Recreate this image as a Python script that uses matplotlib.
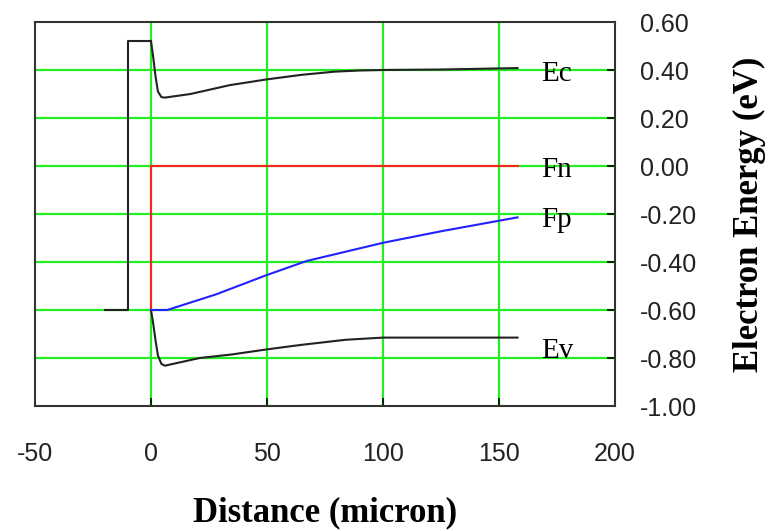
import matplotlib
matplotlib.use("Agg")
import matplotlib.pyplot as plt

# Band diagram data (distance in micron, energy in eV)
ec_x = [0, 1, 2, 3, 4.5, 6, 17, 34, 50, 65, 79, 90, 100, 125, 158]
ec_y = [0.52, 0.45, 0.37, 0.31, 0.287, 0.285, 0.30, 0.337, 0.361, 0.38, 0.393, 0.398, 0.40, 0.402, 0.408]

ev_x = [0, 1, 2, 3, 4.5, 6, 21, 35, 50, 65, 84, 100, 158]
ev_y = [-0.60, -0.66, -0.73, -0.79, -0.825, -0.832, -0.80, -0.785, -0.764, -0.745, -0.724, -0.715, -0.715]

fn_x = [0, 0, 158]
fn_y = [-0.60, 0.0, 0.0]

fp_x = [0, 7, 28, 50, 67, 100, 125, 150, 158]
fp_y = [-0.60, -0.60, -0.535, -0.454, -0.396, -0.32, -0.272, -0.228, -0.214]

# Contact / barrier outline on the left
wall_x = [-20, -10, -10, 0]
wall_y = [-0.60, -0.60, 0.52, 0.52]

band_labels = ["Ec", "Fn", "Fp", "Ev"]
label_x = 168
label_y = [0.385, -0.015, -0.225, -0.772]

x_ticks = [-50, 0, 50, 100, 150, 200]
y_ticks = [0.60, 0.40, 0.20, 0.00, -0.20, -0.40, -0.60, -0.80, -1.00]

fig = plt.figure(figsize=(7.69, 5.31), dpi=100)
ax = fig.add_axes([35/769, 1-406/531, 580/769, 384/531])

green = "#22ee22"
for xv in [0, 50, 100, 150]:
    ax.axvline(xv, color=green, lw=1.6, zorder=1)
for yv in y_ticks[1:-1]:
    ax.axhline(yv, color=green, lw=1.6, zorder=1)

ax.plot(wall_x, wall_y, color="#222222", lw=1.5, zorder=3)
ax.plot(fn_x, fn_y, color="#ff2222", lw=1.5, zorder=3)
ax.plot(fp_x, fp_y, color="#2222ff", lw=1.5, zorder=4)
ax.plot(ec_x, ec_y, color="#222222", lw=1.5, zorder=3)
ax.plot(ev_x, ev_y, color="#222222", lw=1.5, zorder=3)

for t, yv in zip(band_labels, label_y):
    ax.text(label_x, yv, t, fontsize=21, family="Liberation Serif",
            va="center", ha="left", zorder=5)

ax.set_xlim(-50, 200)
ax.set_ylim(-1.0, 0.6)
ax.set_xticks(x_ticks)
ax.set_xticklabels([str(v) for v in x_ticks])
ax.yaxis.tick_right()
ax.yaxis.set_label_position("right")
ax.set_yticks(y_ticks)
ax.set_yticklabels([f"{v:.2f}" for v in y_ticks])
ax.tick_params(axis="x", direction="in", length=6, width=1.2, pad=26,
               labelsize=18, top=False)
ax.tick_params(axis="y", direction="in", length=6, width=1.2, pad=18,
               labelsize=18, left=False, right=True)
for lab in ax.get_xticklabels() + ax.get_yticklabels():
    lab.set_family("Liberation Sans")
    lab.set_color("#222222")

for s in ax.spines.values():
    s.set_color("#333333")
    s.set_linewidth(1.5)

ax.set_xlabel("Distance (micron)", fontsize=25, fontweight="bold",
              family="Liberation Serif", labelpad=22)
ax.set_ylabel("Electron Energy (eV)", fontsize=25, fontweight="bold",
              family="Liberation Serif", rotation=90, labelpad=26)

fig.savefig("out.png", dpi=100)
